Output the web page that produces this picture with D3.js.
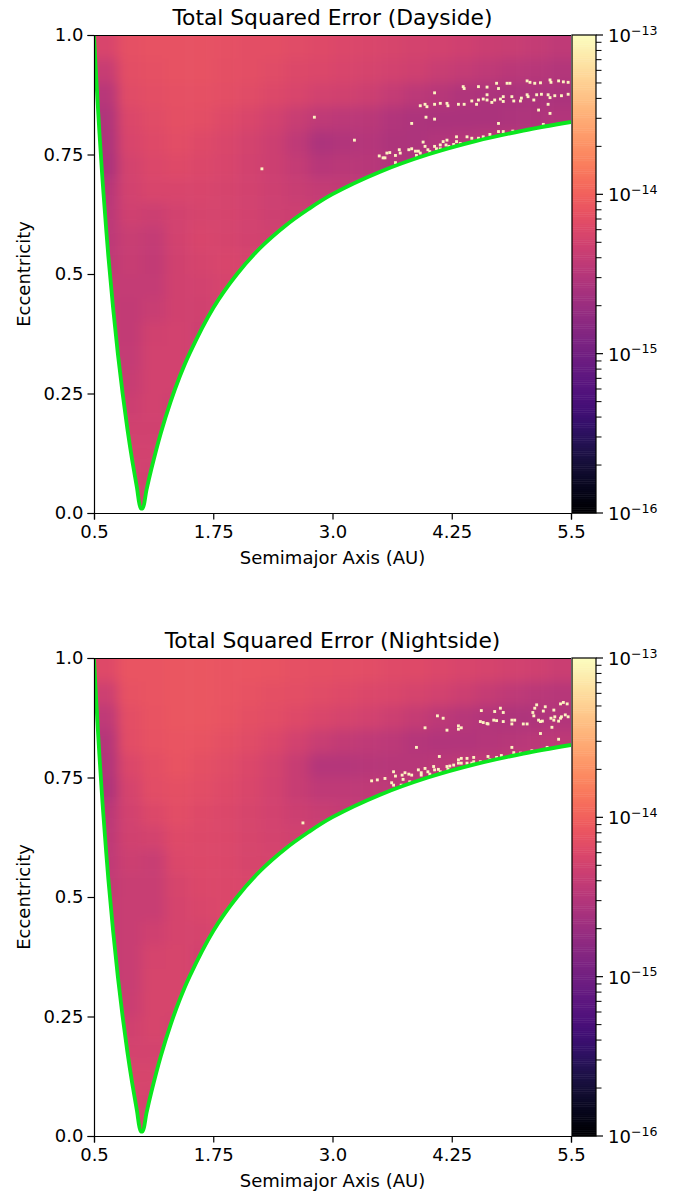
<!DOCTYPE html>
<html lang="en">
<head>
    <meta charset="UTF-8">
    <title>Total Squared Error</title>
    <script src="https://cdn.jsdelivr.net/npm/d3@7"></script>
    <style>
        html, body { margin: 0; padding: 0; background: #fff; }
        text { font-family: "DejaVu Sans", sans-serif; fill: #000; }
    </style>
</head>
<body>
<script>
    // tick values and labels
    const xTicks = [0.5, 1.75, 3.0, 4.25, 5.5];
    const xTickLabels = ["0.5", "1.75", "3.0", "4.25", "5.5"];
    const yTicks = [0, 0.25, 0.5, 0.75, 1];
    const yTickLabels = ["0.0", "0.25", "0.5", "0.75", "1.0"];
    const cbarTicks = [1e-16, 1e-15, 1e-14, 1e-13];
    const cbarExponents = ["\u221216", "\u221215", "\u221214", "\u221213"];

    // grid edges of the coarse reading of the heatmap
    const cellA = 0.25, cellE = 0.05;
    const speckA = 0.03, speckE = 0.006;

    // edge curves: [a, e]
    const leftCurveA = [0.5, 0.52, 0.55, 0.58, 0.6, 0.65, 0.7, 0.75, 0.8, 0.85, 0.9, 0.95, 0.99];
    const leftCurveE = [1, 0.923, 0.818, 0.724, 0.667, 0.538, 0.429, 0.333, 0.25, 0.176, 0.111, 0.053, 0.01];
    const rightCurveA = [1.01, 1.05, 1.1, 1.2, 1.3, 1.4, 1.5, 1.75, 2, 2.25, 2.5, 2.75, 3, 3.5, 4, 4.5, 5, 5.5];
    const rightCurveE = [0.01, 0.048, 0.091, 0.167, 0.231, 0.286, 0.333, 0.429, 0.5, 0.556, 0.6, 0.636, 0.667, 0.714, 0.75, 0.778, 0.8, 0.818];

    // log10(error) x 100, rows from e = 1 downwards, columns from a = 0.5
    const dayRows = [
        [-1425,-1413,-1412,-1412,-1412,-1413,-1415,-1416,-1418,-1420,-1422,-1424,-1426,-1428,-1430,-1432,-1435,-1437,-1440,-1443],
        [-1438,-1415,-1413,-1412,-1412,-1414,-1416,-1418,-1421,-1423,-1425,-1427,-1430,-1432,-1436,-1440,-1444,-1447,-1450,-1452],
        [-1448,-1418,-1415,-1413,-1413,-1415,-1418,-1421,-1425,-1429,-1431,-1434,-1440,-1446,-1450,-1454,-1456,-1458,-1458,-1458],
        [-1454,-1422,-1418,-1414,-1416,-1420,-1424,-1429,-1436,-1444,-1446,-1447,-1453,-1456,-1458,-1458,-1458,-1456,-1455,-1453],
        [-1457,-1425,-1420,-1417,-1420,-1424,-1428,-1434,-1444,-1456,-1453,-1451,-1455,-1456,-1453,-1451,-1447,-1447,-1447,-1447],
        [-1458,-1428,-1422,-1420,-1422,-1425,-1429,-1434,-1440,-1448,-1447,-1448,-1453,-1455,-1453,-1453,-1453],
        [-1450,-1430,-1425,-1425,-1425,-1427,-1429,-1433,-1436,-1440,-1441,-1444,-1446,-1446,-1446],
        [-1447,-1432,-1434,-1429,-1427,-1427,-1429,-1433,-1434,-1436,-1438,-1438,-1438],
        [-1446,-1436,-1440,-1429,-1425,-1427,-1429,-1431,-1432,-1434,-1434,-1434],
        [-1444,-1438,-1441,-1431,-1427,-1425,-1427,-1429,-1431,-1431,-1431],
        [-1440,-1440,-1440,-1431,-1429,-1427,-1427,-1429,-1429,-1429],
        [-1440,-1441,-1436,-1431,-1431,-1429,-1429,-1429,-1429],
        [-1440,-1441,-1431,-1429,-1433,-1431,-1429,-1429,-1429],
        [-1440,-1440,-1429,-1429,-1433,-1431,-1431,-1431],
        [-1440,-1438,-1429,-1429,-1433,-1433,-1433,-1433],
        [-1436,-1434,-1429,-1433,-1433,-1433,-1433],
        [-1433,-1431,-1431,-1433,-1433,-1433,-1433],
        [-1433,-1429,-1429,-1433,-1433,-1433,-1433],
        [-1433,-1429,-1431,-1433,-1433,-1433],
        [-1433,-1429,-1431,-1433,-1433,-1433]
    ];
    const nightRows = [
        [-1420,-1410,-1409,-1408,-1408,-1409,-1410,-1411,-1413,-1414,-1416,-1417,-1419,-1420,-1423,-1425,-1427,-1430,-1432,-1435],
        [-1433,-1412,-1409,-1408,-1408,-1409,-1412,-1414,-1416,-1418,-1420,-1422,-1424,-1427,-1430,-1434,-1439,-1443,-1447,-1449],
        [-1444,-1415,-1411,-1408,-1408,-1411,-1414,-1417,-1420,-1424,-1427,-1430,-1434,-1439,-1445,-1450,-1453,-1455,-1455,-1453],
        [-1451,-1417,-1412,-1409,-1411,-1414,-1418,-1423,-1430,-1437,-1441,-1443,-1446,-1451,-1453,-1453,-1451,-1449,-1447,-1445],
        [-1453,-1422,-1415,-1411,-1414,-1418,-1423,-1428,-1438,-1451,-1451,-1449,-1450,-1450,-1447,-1445,-1443,-1441,-1441,-1441],
        [-1455,-1427,-1417,-1414,-1417,-1420,-1424,-1430,-1438,-1443,-1443,-1443,-1445,-1445,-1443,-1443,-1443],
        [-1447,-1430,-1421,-1417,-1420,-1423,-1426,-1430,-1434,-1437,-1439,-1441,-1441,-1441,-1441],
        [-1445,-1431,-1428,-1420,-1421,-1423,-1426,-1428,-1431,-1433,-1435,-1435,-1435],
        [-1443,-1434,-1436,-1423,-1421,-1423,-1426,-1427,-1428,-1430,-1430,-1430],
        [-1441,-1436,-1437,-1426,-1423,-1423,-1424,-1426,-1427,-1427,-1427],
        [-1440,-1437,-1436,-1427,-1424,-1423,-1424,-1426,-1426,-1426],
        [-1440,-1437,-1432,-1427,-1427,-1426,-1426,-1426,-1426],
        [-1440,-1437,-1427,-1426,-1429,-1427,-1426,-1426,-1426],
        [-1440,-1436,-1426,-1426,-1429,-1427,-1427,-1427],
        [-1438,-1435,-1426,-1426,-1429,-1429,-1429,-1429],
        [-1435,-1431,-1426,-1429,-1429,-1429,-1429],
        [-1431,-1428,-1428,-1429,-1429,-1429,-1429],
        [-1431,-1426,-1426,-1429,-1429,-1429,-1429],
        [-1431,-1426,-1428,-1429,-1429,-1429],
        [-1431,-1426,-1428,-1429,-1429,-1429]
    ];

    // saturated single cells: [a, e]
    const daySpecks = [
        [5.04,.904],[5.07,.901],[5.12,.899],[5.18,.900],[5.28,.906],[5.29,.901],[5.37,.904],[5.42,.902],[5.47,.901],
        [4.72,.899],[4.83,.899],[4.86,.899],[4.53,.892],[4.62,.891],[4.74,.888],[4.37,.892],[4.38,.888],[4.07,.879],
        [4.62,.875],[5.04,.875],[5.05,.871],[5.14,.875],[5.19,.876],[5.26,.875],[5.28,.869],[5.33,.873],[5.40,.873],
        [5.47,.876],[4.79,.871],[4.76,.866],[4.70,.864],[4.88,.871],[4.90,.862],[4.98,.868],[4.97,.862],[5.11,.864],
        [4.53,.864],[4.58,.866],[4.46,.862],[4.51,.855],[4.62,.864],[4.67,.859],[4.79,.861],[3.92,.852],[3.97,.855],
        [3.99,.850],[4.07,.855],[4.13,.857],[4.20,.857],[4.21,.852],[4.32,.855],[4.38,.855],[5.26,.855],[5.16,.843],
        [5.28,.836],[3.98,.828],[4.07,.824],[3.83,.815],[4.74,.815],[3.23,.780],
        [3.49,.747],[3.53,.743],[3.57,.753],[3.60,.754],[3.55,.743],[3.66,.748],[3.70,.760],[3.71,.753],[3.80,.760],
        [3.83,.762],[3.87,.757],[3.90,.757],[3.92,.753],[3.95,.776],[3.97,.767],[4.00,.760],[4.07,.767],[4.09,.762],
        [4.13,.770],[4.16,.777],[4.20,.780],[4.19,.770],[4.22,.767],[4.30,.777],[4.34,.773],[4.30,.787],[4.41,.787],
        [4.46,.784],[4.53,.784],[4.58,.787],[4.65,.792],[4.79,.798],[4.89,.799],[4.74,.798],[5.21,.813],[3.66,.733],
        [3.88,.748],[4.02,.756],[4.13,.762],[4.27,.771],[2.26,.720],[2.81,.828]
    ];
    const nightSpecks = [
        [5.14,.902],[5.12,.895],[5.10,.886],[5.11,.879],[5.16,.870],[5.18,.867],[5.20,.868],[5.23,.898],[5.21,.889],
        [5.32,.891],[5.39,.904],[5.42,.907],[5.46,.904],[5.39,.874],[5.33,.877],[5.29,.874],[5.32,.870],[5.37,.868],
        [5.40,.877],[5.44,.881],[5.47,.877],[5.30,.855],[4.76,.895],[4.70,.888],[4.79,.886],[4.56,.890],[4.10,.879],
        [4.16,.874],[4.55,.867],[4.58,.865],[4.62,.863],[4.63,.862],[4.69,.870],[4.72,.869],[4.79,.867],[4.88,.870],
        [4.91,.870],[4.88,.862],[5.00,.862],[5.04,.862],[3.97,.854],[4.20,.849],[4.32,.858],[4.32,.851],[4.35,.854],
        [5.18,.842],[5.37,.830],[3.88,.813],[4.88,.813],[4.12,.794],
        [3.41,.743],[3.47,.745],[3.55,.748],[3.64,.762],[3.66,.753],[3.73,.755],[3.76,.760],[3.80,.757],[3.83,.755],
        [3.74,.746],[3.62,.739],[3.64,.734],[3.72,.734],[3.81,.741],[3.90,.766],[3.93,.760],[3.97,.769],[4.00,.762],
        [3.93,.755],[4.02,.757],[4.06,.773],[4.07,.766],[4.11,.767],[4.13,.762],[4.20,.773],[4.23,.774],[4.27,.776],
        [4.21,.767],[4.32,.787],[4.32,.780],[4.35,.790],[4.35,.780],[4.41,.790],[4.41,.780],[4.48,.792],[4.48,.783],
        [4.55,.783],[4.63,.794],[4.65,.787],[4.77,.796],[4.72,.792],[4.90,.802],[4.97,.801],[5.09,.806],[5.25,.813],
        [4.46,.780],[2.69,.655]
    ];

    const width = 674, height = 1193;
    const plotLeft = 94, plotRight = 571, plotHeight = 478;
    const cbarLeft = 572, cbarRight = 596;
    const green = "#0be61e";
    const tickSize = 18;

    const svg = d3.select("body").append("svg")
        .attr("width", width).attr("height", height)
        .style("display", "block");
    const defs = svg.append("defs");

    const x = d3.scaleLinear().domain([0.5, 5.5]).range([plotLeft, plotRight]);
    const color = v => d3.interpolateMagma((v + 16) / 3);

    defs.append("filter")
        .attr("id", "soft")
        .attr("filterUnits", "userSpaceOnUse")
        .attr("x", 0).attr("y", 0).attr("width", width).attr("height", height)
        .attr("color-interpolation-filters", "sRGB")
        .append("feGaussianBlur").attr("stdDeviation", 6);

    function panel(top, id, titleText, rows, specks) {
        const y = d3.scaleLinear().domain([0, 1]).range([top + plotHeight, top]);
        const g = svg.append("g");

        const edge = d3.line().x(d => x(d[0])).y(d => y(d[1])).curve(d3.curveCatmullRom);
        const leftPts = leftCurveA.map((a, i) => [a, leftCurveE[i]]);
        const rightPts = rightCurveA.map((a, i) => [a, rightCurveE[i]]);

        defs.append("clipPath").attr("id", "wedge" + id).append("path")
            .attr("d", d3.line().x(d => x(d[0])).y(d => y(d[1]))(
                leftPts.concat(rightPts, [[5.5, 1]])) + "Z");
        defs.append("clipPath").attr("id", "plot" + id).append("rect")
            .attr("x", plotLeft).attr("y", top)
            .attr("width", plotRight - plotLeft).attr("height", plotHeight);

        // heatmap cells
        const cells = rows.flatMap((row, r) => row.map((v, c) => ({r, c, v})));
        g.append("g").attr("clip-path", `url(#wedge${id})`)
            .append("g").attr("filter", "url(#soft)")
            .selectAll("rect").data(cells).join("rect")
            .attr("x", d => x(0.5 + d.c * cellA) - (d.c === 0 ? 30 : 0))
            .attr("y", d => y(1 - d.r * cellE) - (d.r === 0 ? 30 : 0))
            .attr("width", d => x(0.5 + cellA) - x(0.5) + 0.5 + (d.c === 0 || d.c === 19 ? 30 : 0))
            .attr("height", d => y(0) - y(cellE) + 0.5 + (d.r === 0 || d.r === 19 ? 30 : 0))
            .attr("fill", d => color(d.v / 100));

        // saturated cells
        g.append("g").attr("clip-path", `url(#wedge${id})`)
            .selectAll("rect").data(specks).join("rect")
            .attr("x", d => x(d[0] - speckA / 2))
            .attr("y", d => y(d[1] + speckE / 2))
            .attr("width", x(0.5 + speckA) - x(0.5))
            .attr("height", y(0) - y(speckE))
            .attr("fill", "#fcf3c0");

        // green edge lines
        const lines = g.append("g").attr("clip-path", `url(#plot${id})`);
        lines.append("path").attr("d", edge(leftPts.concat(rightPts)))
            .attr("fill", "none").attr("stroke", green)
            .attr("stroke-width", 3.8).attr("stroke-linejoin", "round");

        // axes
        const xAxis = g.append("g")
            .attr("transform", `translate(0,${top + plotHeight})`)
            .call(d3.axisBottom(x).tickValues(xTicks).tickFormat((d, i) => xTickLabels[i]).tickSize(6.5).tickPadding(6));
        const yAxis = g.append("g")
            .attr("transform", `translate(${plotLeft},0)`)
            .call(d3.axisLeft(y).tickValues(yTicks).tickFormat((d, i) => yTickLabels[i]).tickSize(6.5).tickPadding(4));
        [xAxis, yAxis].forEach(a => {
            a.selectAll("text").style("font-size", tickSize + "px").style("font-family", '"DejaVu Sans"');
            a.selectAll("line, path").attr("stroke", "#000").attr("stroke-width", 1.2);
        });
        g.append("line").attr("x1", plotLeft).attr("x2", plotRight)
            .attr("y1", top + 0.5).attr("y2", top + 0.5)
            .attr("stroke", "#000").attr("stroke-width", 1.2);

        // colorbar
        const cbar = d3.scaleLog().domain([1e-16, 1e-13]).range([top + plotHeight, top]);
        const steps = d3.range(256);
        g.append("g").selectAll("rect").data(steps).join("rect")
            .attr("x", cbarLeft).attr("width", cbarRight - cbarLeft)
            .attr("y", d => top + plotHeight - (d + 1) / 256 * plotHeight)
            .attr("height", plotHeight / 256 + 0.5)
            .attr("fill", d => d3.interpolateMagma(d / 255));
        g.append("rect")
            .attr("x", cbarLeft).attr("y", top)
            .attr("width", cbarRight - cbarLeft).attr("height", plotHeight)
            .attr("fill", "none").attr("stroke", "#000").attr("stroke-width", 1.2);

        const minor = [];
        [1e-16, 1e-15, 1e-14].forEach(d => d3.range(2, 10).forEach(m => minor.push(d * m)));
        g.append("g").selectAll("line").data(minor).join("line")
            .attr("x1", cbarRight).attr("x2", cbarRight + 5.5)
            .attr("y1", d => cbar(d)).attr("y2", d => cbar(d))
            .attr("stroke", "#000").attr("stroke-width", 1);
        g.append("g").selectAll("line").data(cbarTicks).join("line")
            .attr("x1", cbarRight).attr("x2", cbarRight + 7)
            .attr("y1", d => cbar(d)).attr("y2", d => cbar(d))
            .attr("stroke", "#000").attr("stroke-width", 1.2);

        const labels = g.append("g").selectAll("text").data(cbarTicks).join("text")
            .attr("x", cbarRight + 12)
            .attr("y", d => cbar(d) + 7)
            .style("font-size", tickSize + "px");
        labels.append("tspan").text("10");
        labels.append("tspan").attr("dy", -7.5).style("font-size", "12.6px")
            .text((d, i) => cbarExponents[i]);

        // titles
        g.append("text")
            .attr("x", 332.5).attr("y", top - 10.5)
            .attr("text-anchor", "middle").style("font-size", "21.8px").text(titleText);
        g.append("text")
            .attr("x", 332.5).attr("y", top + plotHeight + 50.5)
            .attr("text-anchor", "middle").style("font-size", tickSize + "px").text("Semimajor Axis (AU)");
        g.append("text")
            .attr("transform", `translate(30,${top + plotHeight / 2}) rotate(-90)`)
            .attr("text-anchor", "middle").style("font-size", tickSize + "px").text("Eccentricity");
    }

    panel(35, "Day", "Total Squared Error (Dayside)", dayRows, daySpecks);
    panel(658, "Night", "Total Squared Error (Nightside)", nightRows, nightSpecks);
</script>
</body>
</html>
